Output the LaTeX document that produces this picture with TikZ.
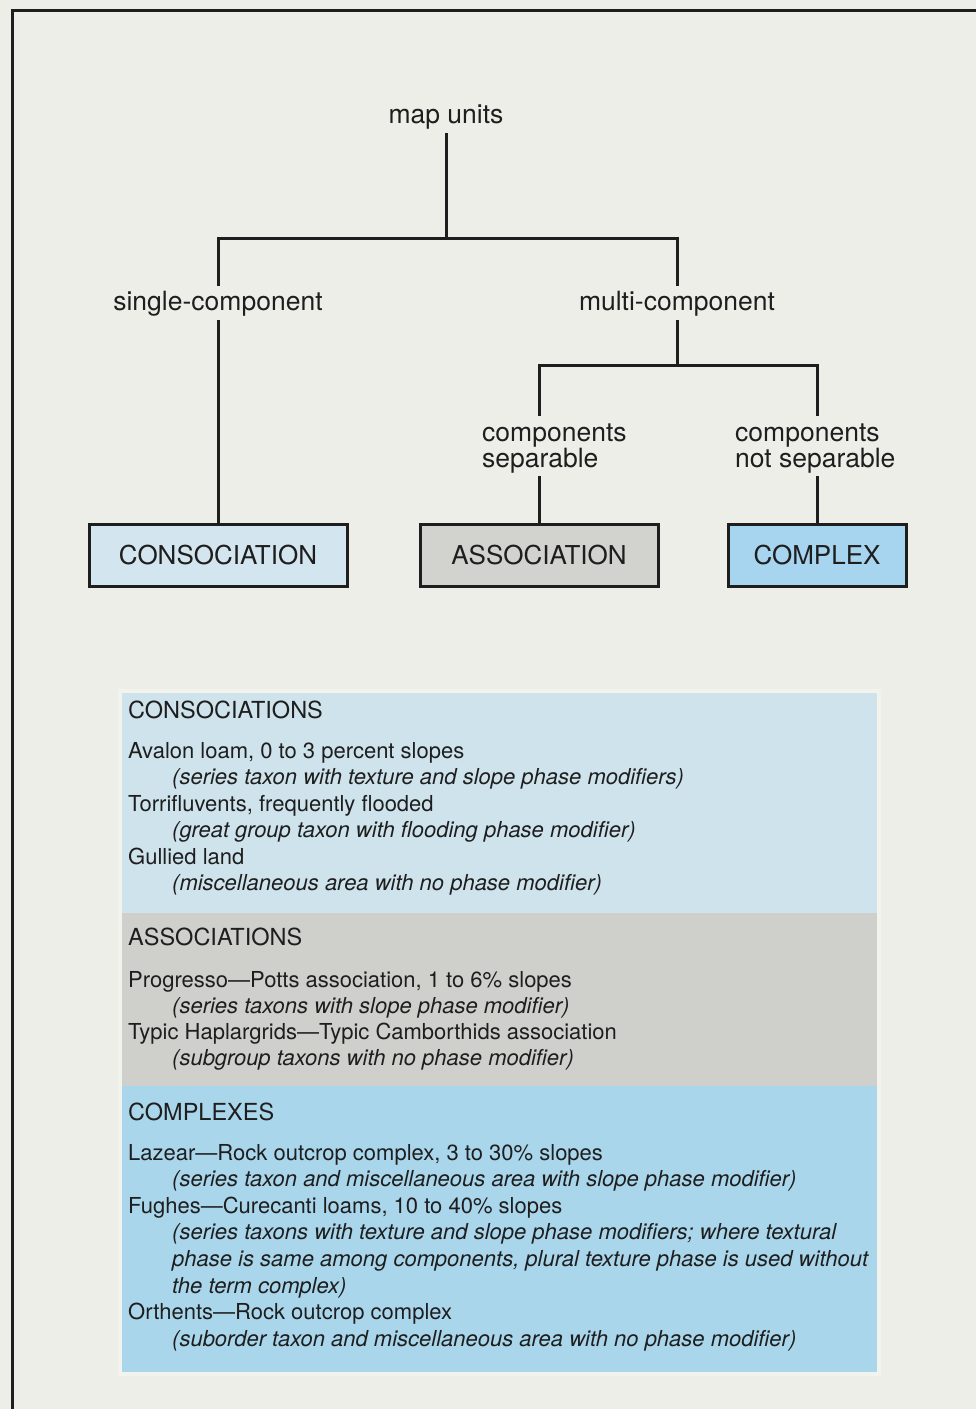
\documentclass[tikz,border=0pt]{standalone}
\usepackage{fontspec}
\setmainfont{TeX Gyre Heros}
\usepackage{tikz}
\usetikzlibrary{positioning}

\definecolor{paper}{HTML}{EDEEE7}
\definecolor{ink}{HTML}{1E1E1E}
\definecolor{consblue}{HTML}{CEE3EC}
\definecolor{assocgray}{HTML}{CFCFCB}
\definecolor{cplxblue}{HTML}{AAD6EC}
\definecolor{consbox}{HTML}{D3E6EF}
\definecolor{assocbox}{HTML}{D2D2CE}
\definecolor{cplxbox}{HTML}{A7D4EE}

\begin{document}
\begin{tikzpicture}[x=1pt, y=-1pt,
  link/.style={draw=ink, line width=3pt},
  treelabel/.style={font=\fontsize{26.5}{26}\selectfont, text=ink, inner sep=4pt},
  unitbox/.style={draw=ink, line width=3pt, text=ink,
    font=\fontsize{26}{30}\selectfont, minimum height=62pt},
  listhead/.style={font=\fontsize{23.5}{26}\selectfont, text=ink,
    anchor=base west, inner sep=0pt},
  listitem/.style={font=\fontsize{22}{26}\selectfont, text=ink,
    anchor=base west, inner sep=0pt},
  listnote/.style={listitem, font=\fontsize{22}{26.6}\selectfont\itshape, align=left}]

\useasboundingbox (0,0) rectangle (976,1409);
\fill[paper] (0,0) rectangle (976,1409);
\draw[ink, line width=3pt] (976,10) -- (12,10) -- (12,1409);

% the tree (multi-line labels sit on their last baseline)
\node[treelabel, anchor=base] (mapunits) at (446,123) {map units};
\coordinate (fork1) at (446,238);
\node[treelabel, anchor=base] (single) at (218,310) {single-component};
\node[treelabel, anchor=base] (multi) at (677,310) {multi-component};
\coordinate (fork2) at (677,365);
\node[treelabel, anchor=base west, align=left, inner sep=0pt] (sep) at (482,467)
  {components\\separable};
\node[treelabel, anchor=base west, align=left, inner sep=0pt] (nonsep) at (735,467)
  {components\\not separable};

\node[unitbox, fill=consbox, minimum width=258pt] (cons) at (218,555) {CONSOCIATION};
\node[unitbox, fill=assocbox, minimum width=238pt] (assoc) at (539,555) {ASSOCIATION};
\node[unitbox, fill=cplxbox, minimum width=178pt] (cplx) at (817,555) {COMPLEX};

% stubs above and below the two-line labels
\coordinate (septop) at (539,416);
\coordinate (sepbot) at (539,476);
\coordinate (nonseptop) at (817,416);
\coordinate (nonsepbot) at (817,476);

\draw[link] (mapunits) -- (fork1);
\draw[link] (single) |- (fork1) -| (multi);
\draw[link] (single) -- (cons);
\draw[link] (multi) -- (fork2);
\draw[link] (septop) |- (fork2) -| (nonseptop);
\draw[link] (sepbot) -- (assoc);
\draw[link] (nonsepbot) -- (cplx);

% the three lists
\draw[white!30!paper, line width=4pt] (120,691) rectangle (879,1374);
\fill[consblue] (122,693) rectangle (877,913);
\fill[assocgray] (122,913) rectangle (877,1086);
\fill[cplxblue] (122,1086) rectangle (877,1372);

\node[listhead] (conshead) at (128,718) {CONSOCIATIONS};
\node[listitem] (cons1) at (128,758) {Avalon loam, 0 to 3 percent slopes};
\node[listnote] (cons1n) at (172,784.5) {(series taxon with texture and slope phase modifiers)};
\node[listitem] (cons2) at (128,811) {Torrifluvents, frequently flooded};
\node[listnote] (cons2n) at (172,837.5) {(great group taxon with flooding phase modifier)};
\node[listitem] (cons3) at (128,864) {Gullied land};
\node[listnote] (cons3n) at (172,890.5) {(miscellaneous area with no phase modifier)};

\node[listhead] (assochead) at (128,945) {ASSOCIATIONS};
\node[listitem] (assoc1) at (128,987) {Progresso---Potts association, 1 to 6\% slopes};
\node[listnote] (assoc1n) at (172,1013) {(series taxons with slope phase modifier)};
\node[listitem] (assoc2) at (128,1039) {Typic Haplargrids---Typic Camborthids association};
\node[listnote] (assoc2n) at (172,1065) {(subgroup taxons with no phase modifier)};

\node[listhead] (cplxhead) at (128,1120) {COMPLEXES};
\node[listitem] (cplx1) at (128,1160) {Lazear---Rock outcrop complex, 3 to 30\% slopes};
\node[listnote] (cplx1n) at (172,1186) {(series taxon and miscellaneous area with slope phase modifier)};
\node[listitem] (cplx2) at (128,1213) {Fughes---Curecanti loams, 10 to 40\% slopes};
\node[listnote] (cplx2n) at (172,1293) {(series taxons with texture and slope phase modifiers; where textural\\
  phase is same among components, plural texture phase is used without\\
  the term complex)};
\node[listitem] (cplx3) at (128,1319) {Orthents---Rock outcrop complex};
\node[listnote] (cplx3n) at (172,1346) {(suborder taxon and miscellaneous area with no phase modifier)};
\end{tikzpicture}
\end{document}
